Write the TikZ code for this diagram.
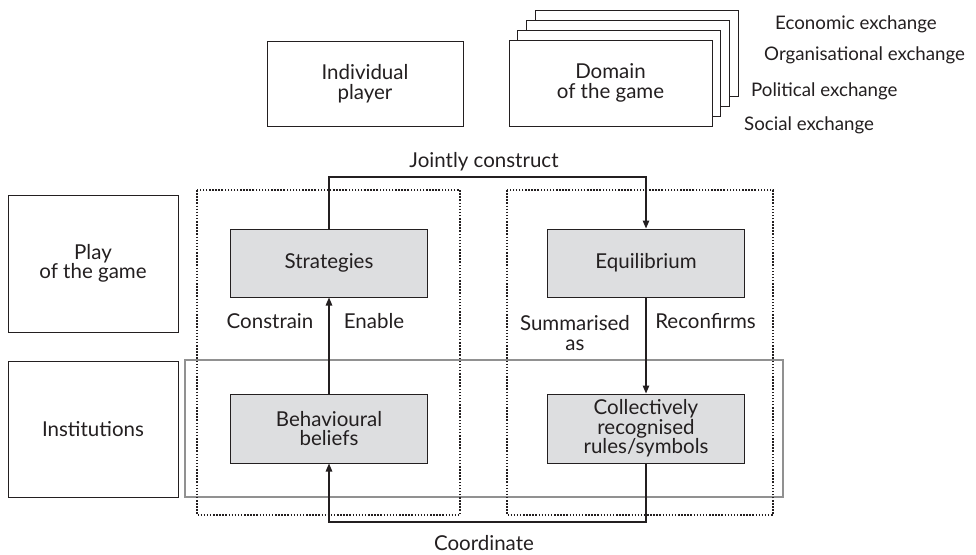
\documentclass[tikz,border=0pt]{standalone}
\usepackage{fontspec}
\setmainfont{Lato}
\usetikzlibrary{arrows.meta}
\definecolor{ink}{RGB}{35,31,32}
\definecolor{boxgray}{RGB}{221,222,224}
\definecolor{framegray}{RGB}{145,145,145}
\begin{document}
\begin{tikzpicture}[x=1pt,y=-1pt,
  every node/.style={font=\fontsize{20.5}{19.5}\selectfont, text=ink},
  box/.style={draw=ink, line width=1pt, fill=white, align=center, inner sep=0pt},
  gbox/.style={box, fill=boxgray, minimum width=197pt, minimum height=68pt},
  dotbox/.style={draw=ink, line width=1.6pt, dash pattern=on 1.5pt off 1.6pt},
  conn/.style={draw=ink, line width=1.2pt},
  arr/.style={conn, -{Triangle[length=8pt,width=6.5pt]}},
  lbl/.style={inner sep=0pt},
  sidelbl/.style={inner sep=0pt, anchor=base west, font=\fontsize{18.7}{19}\selectfont},
]
\useasboundingbox (0,0) rectangle (976,554);

% top row
\node[box, minimum width=196pt, minimum height=85pt] (indiv) at (365,83.5) {Individual\\player};
\foreach \i in {3,2,1}
  \node[box, minimum width=203pt, minimum height=86pt] (dom\i) at ({610.5+8.7*\i},{83-9.7*\i}) {};
\node[box, minimum width=203pt, minimum height=86pt] (dom) at (610.5,83) {Domain\\of the game};

\node[sidelbl] (econ) at (775,29.3) {Economic exchange};
\node[sidelbl] (org) at (764,60.7) {Organisational exchange};
\node[sidelbl] (pol) at (751,96.7) {Political exchange};
\node[sidelbl] (soc) at (744,130.7) {Social exchange};

% left column
\node[box, minimum width=170pt, minimum height=137pt, font=\fontsize{20.5}{17.5}\selectfont] (play) at (93,263.5) {Play\\of the game};
\node[box, minimum width=170pt, minimum height=136pt] (inst) at (93,429) {Institutions};

% frames
\draw[framegray, line width=1.8pt] (185,360) rectangle (783,497);
\draw[dotbox] (197,190) rectangle (460,515);
\draw[dotbox] (507,190) rectangle (773,515);

% inner boxes
\node[gbox] (strat) at (329,263) {Strategies};
\node[gbox] (equi) at (646,263) {Equilibrium};
\node[gbox, minimum height=69pt] (behav) at (329,428.5) {Behavioural\\beliefs};
\node[gbox, minimum height=69pt] (coll) at (646,428.5) {Collectively\\recognised\\rules/symbols};

% connectors
\coordinate (jtop) at (484,177);
\coordinate (cbot) at (484,522);
\draw[arr] (strat.north) |- (jtop) -| (equi.north);
\draw[arr] (behav.north) -- (strat.south);
\draw[arr] (equi.south) -- (coll.north);
\draw[arr] (coll.south) |- (cbot) -| (behav.south);

% labels
\node[lbl, anchor=base] (jlab) at (484,167) {Jointly construct};
\node[lbl, anchor=base] (clab) at (484,550) {Coordinate};
\node[lbl, anchor=base] (constr) at (270,328) {Constrain};
\node[lbl, anchor=base] (enab) at (374,328) {Enable};
\node[lbl, align=center] (summ) at (575,333) {Summarised\\as};
\node[lbl, anchor=base] (reconf) at (705.5,328) {Reconfirms};
\end{tikzpicture}
\end{document}
